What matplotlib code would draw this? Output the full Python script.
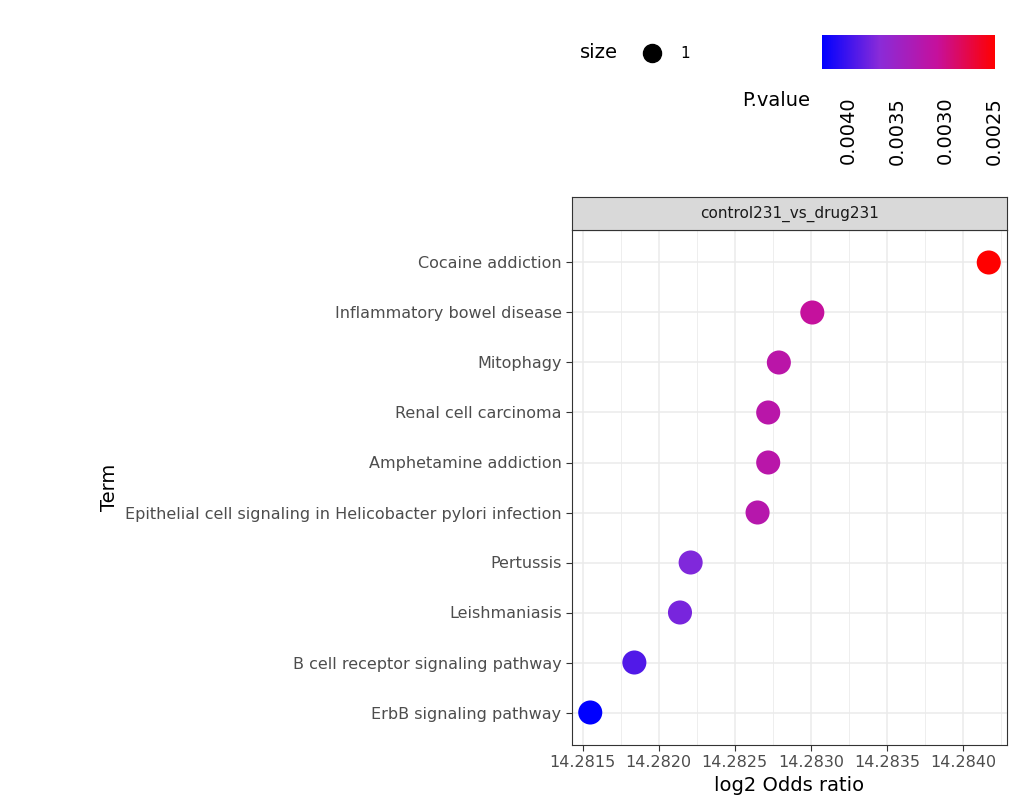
import matplotlib.pyplot as plt
import matplotlib as mpl
from matplotlib.colors import LinearSegmentedColormap, Normalize
from matplotlib.patches import Rectangle

terms = ["Cocaine addiction", "Inflammatory bowel disease", "Mitophagy",
         "Renal cell carcinoma", "Amphetamine addiction",
         "Epithelial cell signaling in Helicobacter pylori infection",
         "Pertussis", "Leishmaniasis", "B cell receptor signaling pathway",
         "ErbB signaling pathway"]
log2_or = [14.28417, 14.28301, 14.28279, 14.28272, 14.28272,
           14.28265, 14.28221, 14.28214, 14.28184, 14.28155]
pvals = [0.00249, 0.00310, 0.00320, 0.00322, 0.00322,
         0.00324, 0.00372, 0.00375, 0.00392, 0.00427]
xticks = [14.2815, 14.2820, 14.2825, 14.2830, 14.2835, 14.2840]

W, H = 1022, 810
fig = plt.figure(figsize=(W / 100, H / 100), dpi=100)
cmap = LinearSegmentedColormap.from_list(
    "pv", ["#0000FF", "#8A2BD8", "#C6109C", "#FF0000"])
norm = Normalize(vmin=min(pvals), vmax=max(pvals))
cmap_r = cmap.reversed()

ax = fig.add_axes([572 / W, 1 - 745 / H, (1007 - 572) / W, (745 - 230) / H])
ypos = list(range(len(terms)))[::-1]
ax.scatter(log2_or, ypos, c=[cmap_r(norm(p)) for p in pvals], s=300, zorder=3,
           edgecolors="none")
ax.set_ylim(-0.65, len(terms) - 0.35)
ax.set_xlim(14.28143, 14.28429)
ax.set_yticks(ypos)
ax.set_yticklabels(terms, fontsize=11.5, color="#4D4D4D")
ax.set_xticks(xticks)
ax.set_xticklabels([f"{t:.4f}" for t in xticks], fontsize=11.5, color="#4D4D4D")
ax.set_xticks([t + 0.00025 for t in xticks[:-1]] + [14.28425], minor=True)
ax.grid(True, which="major", color="#EBEBEB", lw=1.1)
ax.grid(True, which="minor", color="#EBEBEB", lw=0.6)
ax.set_axisbelow(True)
for s in ax.spines.values():
    s.set_color("#333333")
    s.set_linewidth(0.8)
ax.tick_params(which="major", color="#333333", length=4)
ax.tick_params(which="minor", length=0)
ax.set_xlabel("log2 Odds ratio", fontsize=14)
ax.set_ylabel("Term", fontsize=14)

# facet strip
sax = fig.add_axes([572 / W, 1 - 230 / H, (1007 - 572) / W, 33 / H])
sax.set_xticks([]); sax.set_yticks([])
sax.set_facecolor("#D9D9D9")
for s in sax.spines.values():
    s.set_color("#333333"); s.set_linewidth(0.8)
sax.text(0.5, 0.5, "control231_vs_drug231", ha="center", va="center",
         fontsize=11, color="#1A1A1A", transform=sax.transAxes)

# size legend
fig.text(580 / W, 1 - 53 / H, "size", fontsize=14, va="center")
fig.add_artist(plt.Line2D([652 / W], [1 - 53 / H], marker="o", markersize=13,
                          color="black", transform=fig.transFigure))
fig.text(680 / W, 1 - 53 / H, "1", fontsize=11, va="center")

# colorbar
cax = fig.add_axes([822 / W, 1 - 69 / H, (995 - 822) / W, 34 / H])
sm = mpl.cm.ScalarMappable(norm=Normalize(vmin=-max(pvals), vmax=-min(pvals)), cmap=cmap)
cb = fig.colorbar(sm, cax=cax, orientation="horizontal")
cb.outline.set_visible(False)
cb.set_ticks([-0.0040, -0.0035, -0.0030, -0.0025])
cb.set_ticklabels(["0.0040", "0.0035", "0.0030", "0.0025"], rotation=90, fontsize=14)
cax.tick_params(length=0, pad=20)
fig.text(810 / W, 1 - 101 / H, "P.value", fontsize=14, ha="right", va="center")

fig.savefig("out.png", dpi=100)
